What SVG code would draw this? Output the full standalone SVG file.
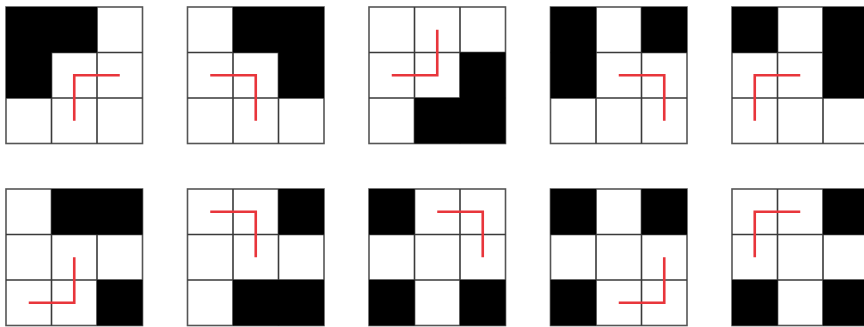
<svg xmlns="http://www.w3.org/2000/svg" width="864" height="327" viewBox="0 0 864 327">
<defs>
<style>
.b{fill:#000}
.g{fill:none;stroke:#3a3a3a;stroke-width:1.6}
.o{fill:none;stroke:#555;stroke-width:1.6}
.r{fill:none;stroke:#e8353b;stroke-width:2.6;stroke-linejoin:miter}
</style>
<g id="grid">
<rect class="o" x="0" y="0" width="136.5" height="136.5"/>
<path class="g" d="M45.5,0V136.5M91,0V136.5M0,45.5H136.5M0,91H136.5"/>
</g>
</defs>
<rect width="864" height="327" fill="#fff"/>
<g id="n1" transform="translate(6,7)">
<use href="#grid"/>
<path class="b" d="M0,0H91V45.5H45.5V91H0Z"/>
<path class="r" d="M113.75,68.25H68.25V113.75"/>
</g>
<g id="n2" transform="translate(187.5,7)">
<use href="#grid"/>
<path class="b" d="M45.5,0H136.5V91H91V45.5H45.5Z"/>
<path class="r" d="M22.75,68.25H68.25V113.75"/>
</g>
<g id="n3" transform="translate(369,7)">
<use href="#grid"/>
<path class="b" d="M91,45.5H136.5V136.5H45.5V91H91Z"/>
<path class="r" d="M68.25,22.75V68.25H22.75"/>
</g>
<g id="n4" transform="translate(550.5,7)">
<use href="#grid"/>
<rect class="b" x="0" y="0" width="45.5" height="91"/>
<rect class="b" x="91" y="0" width="45.5" height="45.5"/>
<path class="r" d="M68.25,68.25H113.75V113.75"/>
</g>
<g id="n5" transform="translate(732,7)">
<use href="#grid"/>
<rect class="b" x="0" y="0" width="45.5" height="45.5"/>
<rect class="b" x="91" y="0" width="45.5" height="91"/>
<path class="r" d="M68.25,68.25H22.75V113.75"/>
</g>
<g id="n6" transform="translate(6,189)">
<use href="#grid"/>
<rect class="b" x="45.5" y="0" width="91" height="45.5"/>
<rect class="b" x="91" y="91" width="45.5" height="45.5"/>
<path class="r" d="M68.25,68.25V113.75H22.75"/>
</g>
<g id="n7" transform="translate(187.5,189)">
<use href="#grid"/>
<rect class="b" x="91" y="0" width="45.5" height="45.5"/>
<rect class="b" x="45.5" y="91" width="91" height="45.5"/>
<path class="r" d="M68.25,68.25V22.75H22.75"/>
</g>
<g id="n8" transform="translate(369,189)">
<use href="#grid"/>
<rect class="b" x="0" y="0" width="45.5" height="45.5"/>
<rect class="b" x="0" y="91" width="45.5" height="45.5"/>
<rect class="b" x="91" y="91" width="45.5" height="45.5"/>
<path class="r" d="M113.75,68.25V22.75H68.25"/>
</g>
<g id="n9" transform="translate(550.5,189)">
<use href="#grid"/>
<rect class="b" x="0" y="0" width="45.5" height="45.5"/>
<rect class="b" x="91" y="0" width="45.5" height="45.5"/>
<rect class="b" x="0" y="91" width="45.5" height="45.5"/>
<path class="r" d="M113.75,68.25V113.75H68.25"/>
</g>
<g id="n10" transform="translate(732,189)">
<use href="#grid"/>
<rect class="b" x="91" y="0" width="45.5" height="45.5"/>
<rect class="b" x="0" y="91" width="45.5" height="45.5"/>
<rect class="b" x="91" y="91" width="45.5" height="45.5"/>
<path class="r" d="M22.75,68.25V22.75H68.25"/>
</g>
<g id="connectors"/>
</svg>
